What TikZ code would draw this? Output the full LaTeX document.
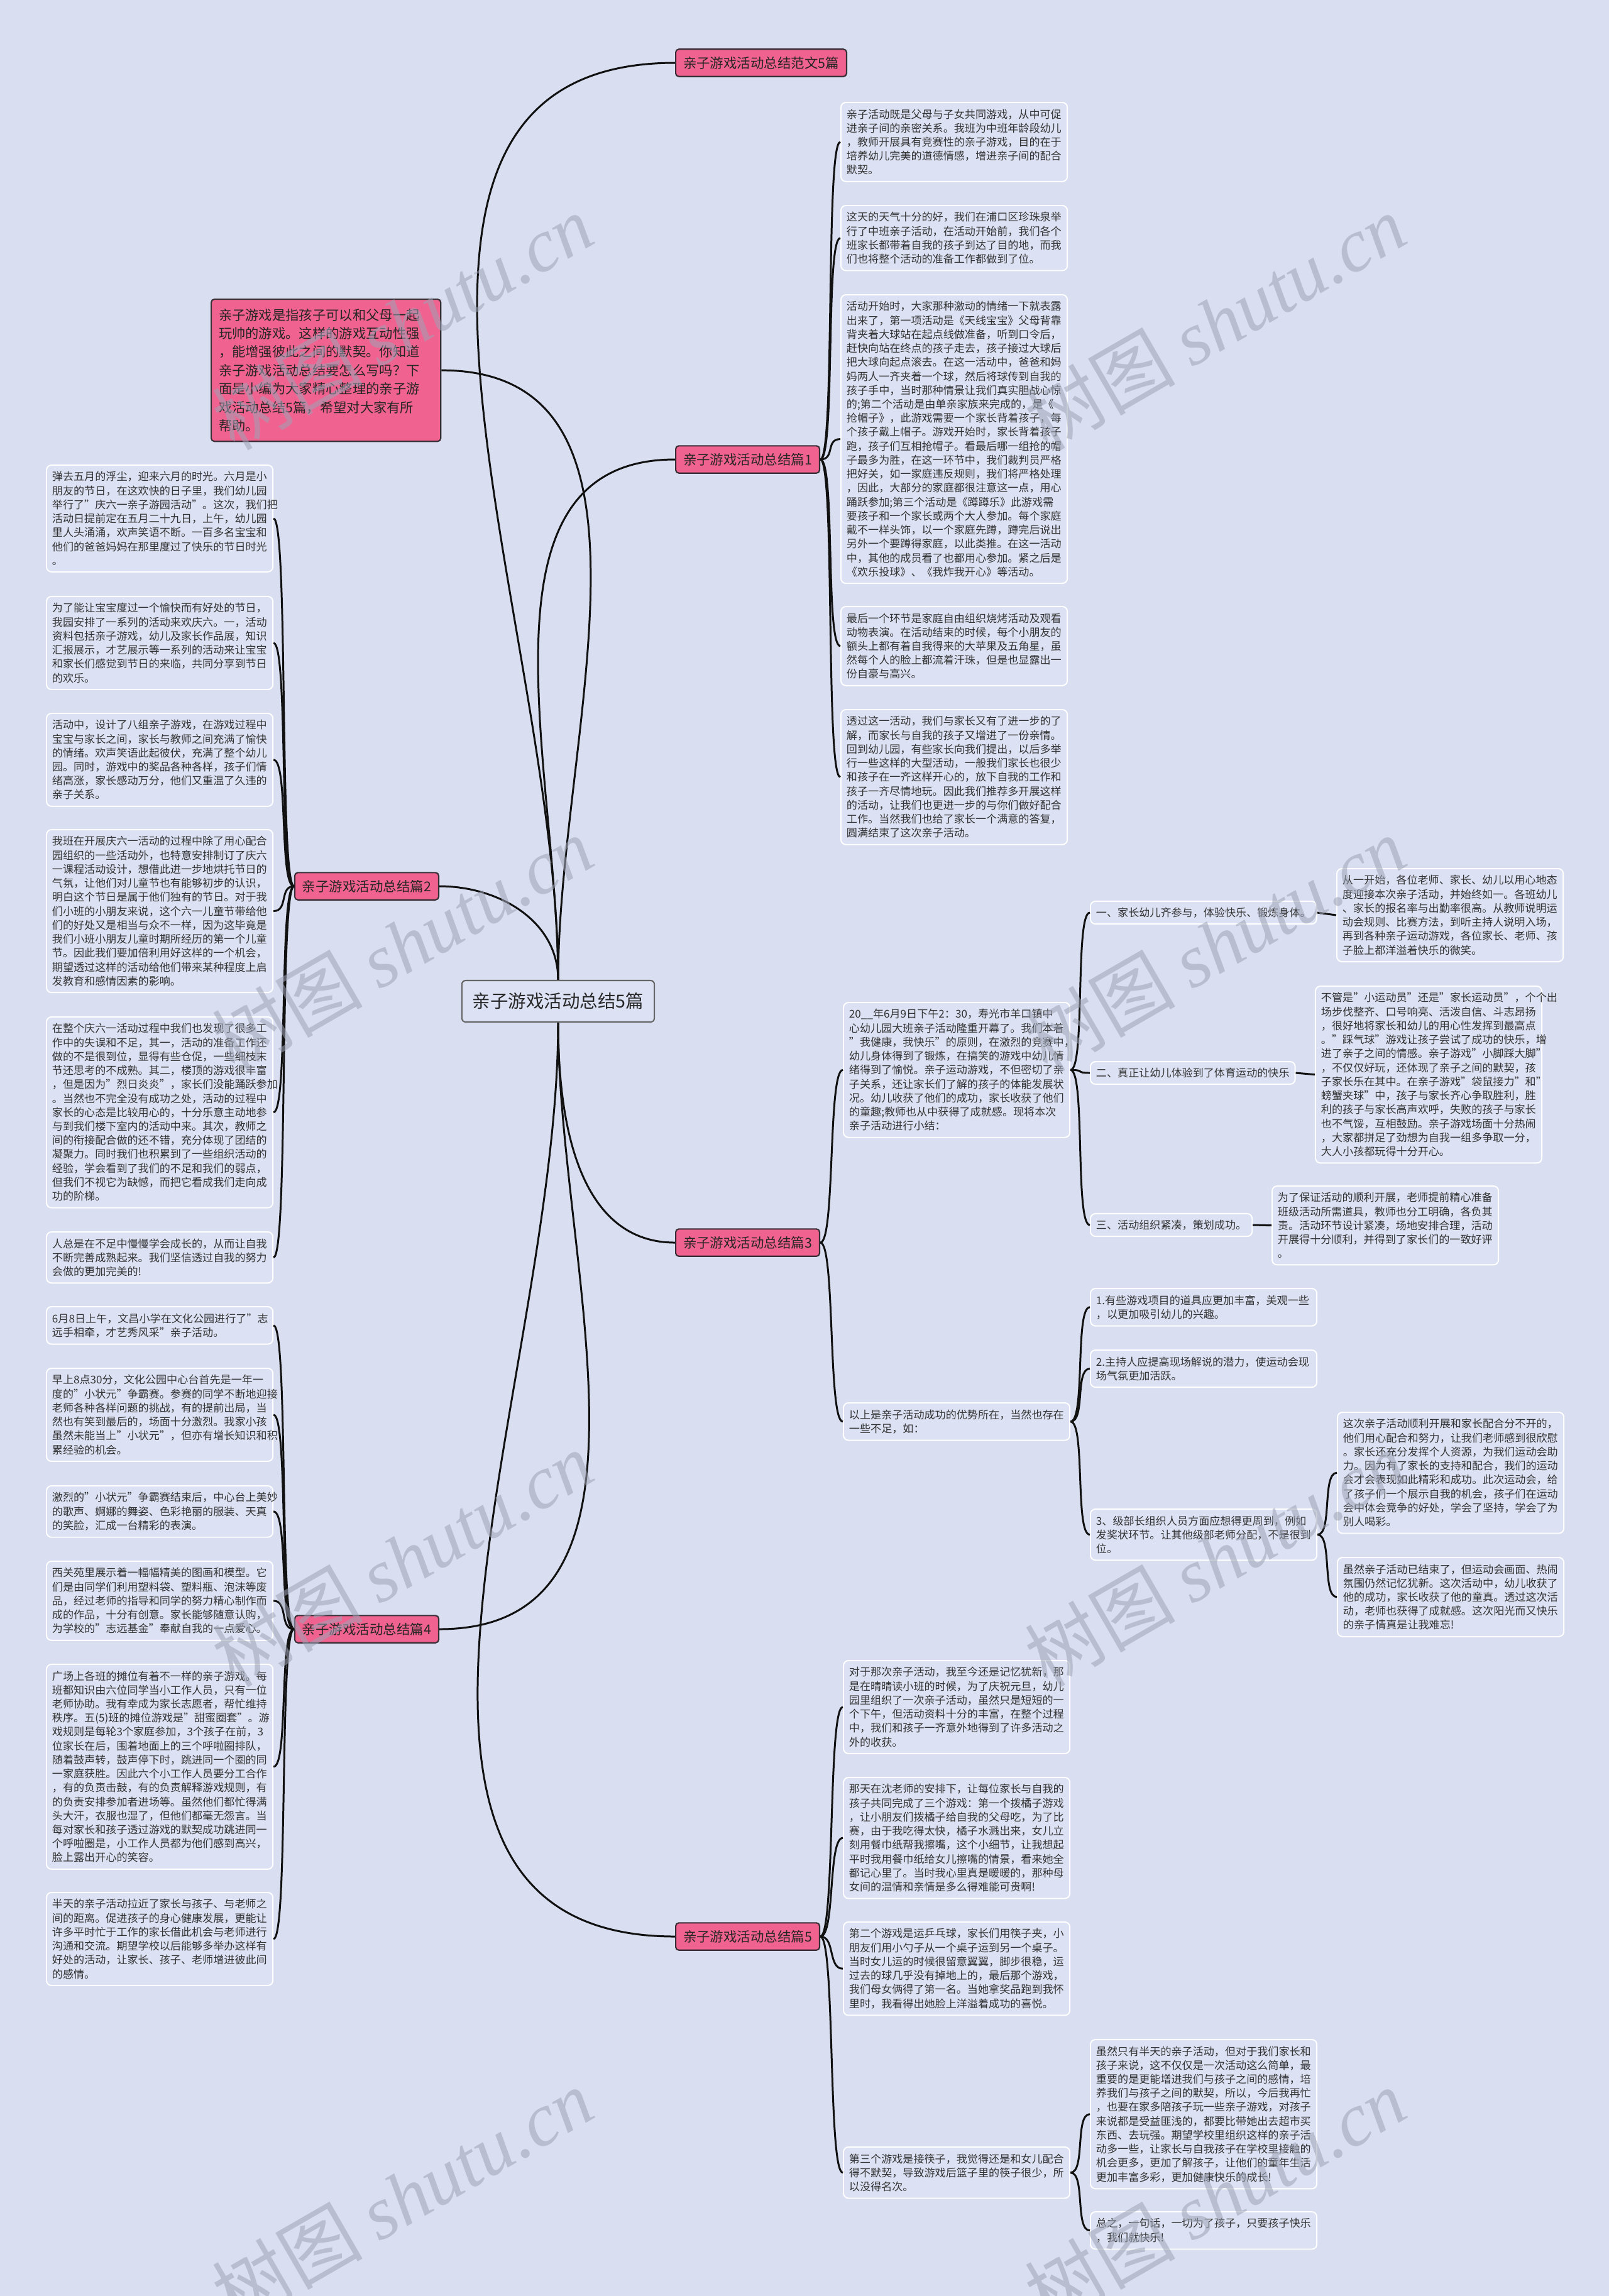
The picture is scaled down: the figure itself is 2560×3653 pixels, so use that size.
\documentclass[tikz,border=0pt]{standalone}
\usepackage{fontspec}
\setmainfont{Noto Sans CJK SC}
\newfontfamily\wmlatin{Liberation Serif}
\usetikzlibrary{positioning}

\definecolor{bgcol}{HTML}{D9DFF1}
\definecolor{leafcol}{HTML}{DCE2F4}
\definecolor{pinkcol}{HTML}{F0628F}
\definecolor{edgecol}{HTML}{3A2E36}
\definecolor{linecol}{HTML}{111111}
\definecolor{wmcol}{HTML}{9EA4B6}

\newcommand\leaffont{\fontsize{4.86pt}{6.32pt}\selectfont}
\newcommand\topicfont{\fontsize{6.1pt}{7pt}\selectfont}
\newcommand\rootfont{\fontsize{8.1pt}{9pt}\selectfont}
\newcommand\introfont{\fontsize{6.06pt}{8.36pt}\selectfont}

% connectors: parent on the left, child on the right (and the other way round)
\newcommand\twig[2]{\draw[link] (#1.east) .. controls +(24,0) and +(-24,0) .. (#2.west);}
\newcommand\twigl[2]{\draw[link] (#1.west) .. controls +(-24,0) and +(24,0) .. (#2.east);}

\tikzset{
  leaf/.style={draw=white, line width=0.55pt, fill=leafcol, rounded corners=0.08cm,
    text width=3.42cm, inner xsep=0.09cm, inner ysep=0.105cm, align=left,
    anchor=north west, font=\leaffont, text=black!80},
  headbox/.style={draw=white, line width=0.55pt, fill=leafcol, rounded corners=0.08cm,
    inner xsep=0.09cm, inner ysep=0.1cm, anchor=west, font=\leaffont, text=black!80},
  topic/.style={draw=edgecol, line width=0.6pt, fill=pinkcol, rounded corners=0.05cm,
    inner xsep=0.12cm, minimum height=0.42cm, font=\topicfont, text=black!85},
  rootbox/.style={draw=black!60, line width=0.6pt, fill=leafcol, rounded corners=0.06cm,
    inner xsep=0.17cm, minimum height=0.66cm, font=\rootfont, text=black!85},
  intro/.style={topic, text width=3.41cm, inner xsep=0.12cm, inner ysep=0.15cm,
    align=left, anchor=north west, font=\introfont, minimum height=0pt},
  link/.style={draw=linecol, line width=0.85pt},
  wmark/.style={text=wmcol, opacity=0.55, rotate=30, font=\fontsize{34pt}{34pt}\selectfont},
}

\begin{document}
\begin{tikzpicture}[x=0.01cm, y=-0.01cm]
  \useasboundingbox (0,0) rectangle (2560,3653);
  \fill[bgcol] (0,0) rectangle (2560,3653);

  % centre and main branches
  \node[rootbox] (root) at (888,1593) {亲子游戏活动总结5篇};
  \node[topic, anchor=west] (t0) at (1074,100) {亲子游戏活动总结范文5篇};
  \node[topic, anchor=west] (t1) at (1074,731) {亲子游戏活动总结篇1};
  \node[topic, anchor=east] (t2) at (699,1410) {亲子游戏活动总结篇2};
  \node[topic, anchor=west] (t3) at (1074,1977) {亲子游戏活动总结篇3};
  \node[topic, anchor=east] (t4) at (699,2592) {亲子游戏活动总结篇4};
  \node[topic, anchor=west] (t5) at (1074,3081) {亲子游戏活动总结篇5};
  \node[intro] (intro) at (335,475) {亲子游戏是指孩子可以和父母一起\\
玩帅的游戏。这样的游戏互动性强\\
，能增强彼此之间的默契。你知道\\
亲子游戏活动总结要怎么写吗？下\\
面是小编为大家精心整理的亲子游\\
戏活动总结5篇，希望对大家有所\\
帮助。};

  \draw[link] (root.north) to[out=90,in=180] (t0.west);
  \draw[link] (root.north) to[out=90,in=180] (t1.west);
  \draw[link] (root.south) to[out=-90,in=180] (t3.west);
  \draw[link] (root.south) to[out=-90,in=180] (t5.west);
  \draw[link] (root.north) to[out=90,in=0] (t2.east);
  \draw[link] (root.north) to[out=90,in=0] (intro.east);
  \draw[link] (root.south) to[out=-90,in=0] (t4.east);

  % 篇1
  \node[leaf] (a1) at (1337,162) {亲子活动既是父母与子女共同游戏，从中可促\\
进亲子间的亲密关系。我班为中班年龄段幼儿\\
，教师开展具有竞赛性的亲子游戏，目的在于\\
培养幼儿完美的道德情感，增进亲子间的配合\\
默契。};
  \node[leaf] (a2) at (1337,326) {这天的天气十分的好，我们在浦口区珍珠泉举\\
行了中班亲子活动，在活动开始前，我们各个\\
班家长都带着自我的孩子到达了目的地，而我\\
们也将整个活动的准备工作都做到了位。};
  \node[leaf] (a3) at (1337,468) {活动开始时，大家那种激动的情绪一下就表露\\
出来了，第一项活动是《天线宝宝》父母背靠\\
背夹着大球站在起点线做准备，听到口令后，\\
赶快向站在终点的孩子走去，孩子接过大球后\\
把大球向起点滚去。在这一活动中，爸爸和妈\\
妈两人一齐夹着一个球，然后将球传到自我的\\
孩子手中，当时那种情景让我们真实胆战心惊\\
的;第二个活动是由单亲家族来完成的，是《\\
抢帽子》，此游戏需要一个家长背着孩子，每\\
个孩子戴上帽子。游戏开始时，家长背着孩子\\
跑，孩子们互相抢帽子。看最后哪一组抢的帽\\
子最多为胜，在这一环节中，我们裁判员严格\\
把好关，如一家庭违反规则，我们将严格处理\\
，因此，大部分的家庭都很注意这一点，用心\\
踊跃参加;第三个活动是《蹲蹲乐》此游戏需\\
要孩子和一个家长或两个大人参加。每个家庭\\
戴不一样头饰，以一个家庭先蹲，蹲完后说出\\
另外一个要蹲得家庭，以此类推。在这一活动\\
中，其他的成员看了也都用心参加。紧之后是\\
《欢乐投球》、《我炸我开心》等活动。};
  \node[leaf] (a4) at (1337,964) {最后一个环节是家庭自由组织烧烤活动及观看\\
动物表演。在活动结束的时候，每个小朋友的\\
额头上都有着自我得来的大苹果及五角星，虽\\
然每个人的脸上都流着汗珠，但是也显露出一\\
份自豪与高兴。};
  \node[leaf] (a5) at (1337,1128) {透过这一活动，我们与家长又有了进一步的了\\
解，而家长与自我的孩子又增进了一份亲情。\\
回到幼儿园，有些家长向我们提出，以后多举\\
行一些这样的大型活动，一般我们家长也很少\\
和孩子在一齐这样开心的，放下自我的工作和\\
孩子一齐尽情地玩。因此我们推荐多开展这样\\
的活动，让我们也更进一步的与你们做好配合\\
工作。当然我们也给了家长一个满意的答复，\\
圆满结束了这次亲子活动。};
  \foreach \c in {a1,a2,a3,a4,a5} {\twig{t1}{\c}}

  % 篇2
  \node[leaf] (b1) at (73,739) {弹去五月的浮尘，迎来六月的时光。六月是小\\
朋友的节日，在这欢快的日子里，我们幼儿园\\
举行了"庆六一亲子游园活动"。这次，我们把\\
活动日提前定在五月二十九日，上午，幼儿园\\
里人头涌涌，欢声笑语不断。一百多名宝宝和\\
他们的爸爸妈妈在那里度过了快乐的节日时光\\
。};
  \node[leaf] (b2) at (73,948) {为了能让宝宝度过一个愉快而有好处的节日，\\
我园安排了一系列的活动来欢庆六。一，活动\\
资料包括亲子游戏，幼儿及家长作品展，知识\\
汇报展示，才艺展示等一系列的活动来让宝宝\\
和家长们感觉到节日的来临，共同分享到节日\\
的欢乐。};
  \node[leaf] (b3) at (73,1134) {活动中，设计了八组亲子游戏，在游戏过程中\\
宝宝与家长之间，家长与教师之间充满了愉快\\
的情绪。欢声笑语此起彼伏，充满了整个幼儿\\
园。同时，游戏中的奖品各种各样，孩子们情\\
绪高涨，家长感动万分，他们又重温了久违的\\
亲子关系。};
  \node[leaf] (b4) at (73,1319) {我班在开展庆六一活动的过程中除了用心配合\\
园组织的一些活动外，也特意安排制订了庆六\\
一课程活动设计，想借此进一步地烘托节日的\\
气氛，让他们对儿童节也有能够初步的认识，\\
明白这个节日是属于他们独有的节日。对于我\\
们小班的小朋友来说，这个六一儿童节带给他\\
们的好处又是相当与众不一样，因为这毕竟是\\
我们小班小朋友儿童时期所经历的第一个儿童\\
节。因此我们要加倍利用好这样的一个机会，\\
期望透过这样的活动给他们带来某种程度上启\\
发教育和感情因素的影响。};
  \node[leaf] (b5) at (73,1617) {在整个庆六一活动过程中我们也发现了很多工\\
作中的失误和不足，其一，活动的准备工作还\\
做的不是很到位，显得有些仓促，一些细枝末\\
节还思考的不成熟。其二，楼顶的游戏很丰富\\
，但是因为"烈日炎炎"，家长们没能踊跃参加\\
。当然也不完全没有成功之处，活动的过程中\\
家长的心态是比较用心的，十分乐意主动地参\\
与到我们楼下室内的活动中来。其次，教师之\\
间的衔接配合做的还不错，充分体现了团结的\\
凝聚力。同时我们也积累到了一些组织活动的\\
经验，学会看到了我们的不足和我们的弱点，\\
但我们不视它为缺憾，而把它看成我们走向成\\
功的阶梯。};
  \node[leaf] (b6) at (73,1959) {人总是在不足中慢慢学会成长的，从而让自我\\
不断完善成熟起来。我们坚信透过自我的努力\\
会做的更加完美的!};
  \foreach \c in {b1,b2,b3,b4,b5,b6} {\twigl{t2}{\c}}

  % 篇3
  \node[leaf] (c0) at (1341,1594) {20\_\_年6月9日下午2：30，寿光市羊口镇中\\
心幼儿园大班亲子活动隆重开幕了。我们本着\\
"我健康，我快乐"的原则，在激烈的竞赛中，\\
幼儿身体得到了锻炼，在搞笑的游戏中幼儿情\\
绪得到了愉悦。亲子运动游戏，不但密切了亲\\
子关系，还让家长们了解的孩子的体能发展状\\
况。幼儿收获了他们的成功，家长收获了他们\\
的童趣;教师也从中获得了成就感。现将本次\\
亲子活动进行小结：};
  \node[headbox] (c1) at (1734,1452) {一、家长幼儿齐参与，体验快乐、锻炼身体。};
  \node[headbox] (c2) at (1734,1707) {二、真正让幼儿体验到了体育运动的快乐};
  \node[headbox] (c3) at (1734,1949) {三、活动组织紧凑，策划成功。};
  \node[leaf] (d1) at (2126,1381) {从一开始，各位老师、家长、幼儿以用心地态\\
度迎接本次亲子活动，并始终如一。各班幼儿\\
、家长的报名率与出勤率很高。从教师说明运\\
动会规则、比赛方法，到听主持人说明入场，\\
再到各种亲子运动游戏，各位家长、老师、孩\\
子脸上都洋溢着快乐的微笑。};
  \node[leaf] (d2) at (2092,1568) {不管是"小运动员"还是"家长运动员"，个个出\\
场步伐整齐、口号响亮、活泼自信、斗志昂扬\\
，很好地将家长和幼儿的用心性发挥到最高点\\
。"踩气球"游戏让孩子尝试了成功的快乐，增\\
进了亲子之间的情感。亲子游戏"小脚踩大脚"\\
，不仅仅好玩，还体现了亲子之间的默契，孩\\
子家长乐在其中。在亲子游戏"袋鼠接力"和"\\
螃蟹夹球"中，孩子与家长齐心争取胜利，胜\\
利的孩子与家长高声欢呼，失败的孩子与家长\\
也不气馁，互相鼓励。亲子游戏场面十分热闹\\
，大家都拼足了劲想为自我一组多争取一分，\\
大人小孩都玩得十分开心。};
  \node[leaf] (d3) at (2023,1886) {为了保证活动的顺利开展，老师提前精心准备\\
班级活动所需道具，教师也分工明确，各负其\\
责。活动环节设计紧凑，场地安排合理，活动\\
开展得十分顺利，并得到了家长们的一致好评\\
。};
  \node[leaf] (c4) at (1341,2231) {以上是亲子活动成功的优势所在，当然也存在\\
一些不足，如：};
  \node[leaf] (c5) at (1734,2049) {1.有些游戏项目的道具应更加丰富，美观一些\\
，以更加吸引幼儿的兴趣。};
  \node[leaf] (c6) at (1734,2147) {2.主持人应提高现场解说的潜力，使运动会现\\
场气氛更加活跃。};
  \node[leaf] (c7) at (1734,2400) {3、级部长组织人员方面应想得更周到，例如\\
发奖状环节。让其他级部老师分配，不是很到\\
位。};
  \node[leaf] (d4) at (2127,2246) {这次亲子活动顺利开展和家长配合分不开的，\\
他们用心配合和努力，让我们老师感到很欣慰\\
。家长还充分发挥个人资源，为我们运动会助\\
力。因为有了家长的支持和配合，我们的运动\\
会才会表现如此精彩和成功。此次运动会，给\\
了孩子们一个展示自我的机会，孩子们在运动\\
会中体会竞争的好处，学会了坚持，学会了为\\
别人喝彩。};
  \node[leaf] (d5) at (2127,2477) {虽然亲子活动已结束了，但运动会画面、热闹\\
氛围仍然记忆犹新。这次活动中，幼儿收获了\\
他的成功，家长收获了他的童真。透过这次活\\
动，老师也获得了成就感。这次阳光而又快乐\\
的亲子情真是让我难忘!};
  \twig{t3}{c0} \twig{t3}{c4}
  \foreach \c in {c1,c2,c3} {\twig{c0}{\c}}
  \draw[link] (c1.east) -- (d1.west);
  \draw[link] (c2.east) -- (d2.west);
  \draw[link] (c3.east) -- (d3.west);
  \foreach \c in {c5,c6,c7} {\twig{c4}{\c}}
  \twig{c7}{d4} \twig{c7}{d5}

  % 篇4
  \node[leaf] (e1) at (73,2078) {6月8日上午，文昌小学在文化公园进行了"志\\
远手相牵，才艺秀风采"亲子活动。};
  \node[leaf] (e2) at (73,2176) {早上8点30分，文化公园中心台首先是一年一\\
度的"小状元"争霸赛。参赛的同学不断地迎接\\
老师各种各样问题的挑战，有的提前出局，当\\
然也有笑到最后的，场面十分激烈。我家小孩\\
虽然未能当上"小状元"，但亦有增长知识和积\\
累经验的机会。};
  \node[leaf] (e3) at (73,2363) {激烈的"小状元"争霸赛结束后，中心台上美妙\\
的歌声、婀娜的舞姿、色彩艳丽的服装、天真\\
的笑脸，汇成一台精彩的表演。};
  \node[leaf] (e4) at (73,2483) {西关苑里展示着一幅幅精美的图画和模型。它\\
们是由同学们利用塑料袋、塑料瓶、泡沫等废\\
品，经过老师的指导和同学的努力精心制作而\\
成的作品，十分有创意。家长能够随意认购，\\
为学校的"志远基金"奉献自我的一点爱心。};
  \node[leaf] (e5) at (73,2647) {广场上各班的摊位有着不一样的亲子游戏。每\\
班都知识由六位同学当小工作人员，只有一位\\
老师协助。我有幸成为家长志愿者，帮忙维持\\
秩序。五(5)班的摊位游戏是"甜蜜圈套"。游\\
戏规则是每轮3个家庭参加，3个孩子在前，3\\
位家长在后，围着地面上的三个呼啦圈排队，\\
随着鼓声转，鼓声停下时，跳进同一个圈的同\\
一家庭获胜。因此六个小工作人员要分工合作\\
，有的负责击鼓，有的负责解释游戏规则，有\\
的负责安排参加者进场等。虽然他们都忙得满\\
头大汗，衣服也湿了，但他们都毫无怨言。当\\
每对家长和孩子透过游戏的默契成功跳进同一\\
个呼啦圈是，小工作人员都为他们感到高兴，\\
脸上露出开心的笑容。};
  \node[leaf] (e6) at (73,3010) {半天的亲子活动拉近了家长与孩子、与老师之\\
间的距离。促进孩子的身心健康发展，更能让\\
许多平时忙于工作的家长借此机会与老师进行\\
沟通和交流。期望学校以后能够多举办这样有\\
好处的活动，让家长、孩子、老师增进彼此间\\
的感情。};
  \foreach \c in {e1,e2,e3,e4,e5,e6} {\twigl{t4}{\c}}

  % 篇5
  \node[leaf] (f1) at (1341,2641) {对于那次亲子活动，我至今还是记忆犹新，那\\
是在晴晴读小班的时候，为了庆祝元旦，幼儿\\
园里组织了一次亲子活动，虽然只是短短的一\\
个下午，但活动资料十分的丰富，在整个过程\\
中，我们和孩子一齐意外地得到了许多活动之\\
外的收获。};
  \node[leaf] (f2) at (1341,2827) {那天在沈老师的安排下，让每位家长与自我的\\
孩子共同完成了三个游戏：第一个拨橘子游戏\\
，让小朋友们拨橘子给自我的父母吃，为了比\\
赛，由于我吃得太快，橘子水溅出来，女儿立\\
刻用餐巾纸帮我擦嘴，这个小细节，让我想起\\
平时我用餐巾纸给女儿擦嘴的情景，看来她全\\
都记心里了。当时我心里真是暖暖的，那种母\\
女间的温情和亲情是多么得难能可贵啊!};
  \node[leaf] (f3) at (1341,3057) {第二个游戏是运乒乓球，家长们用筷子夹，小\\
朋友们用小勺子从一个桌子运到另一个桌子。\\
当时女儿运的时候很留意翼翼，脚步很稳，运\\
过去的球几乎没有掉地上的，最后那个游戏，\\
我们母女俩得了第一名。当她拿奖品跑到我怀\\
里时，我看得出她脸上洋溢着成功的喜悦。};
  \node[leaf] (f4) at (1341,3415) {第三个游戏是接筷子，我觉得还是和女儿配合\\
得不默契，导致游戏后篮子里的筷子很少，所\\
以没得名次。};
  \node[leaf] (f5) at (1734,3244) {虽然只有半天的亲子活动，但对于我们家长和\\
孩子来说，这不仅仅是一次活动这么简单，最\\
重要的是更能增进我们与孩子之间的感情，培\\
养我们与孩子之间的默契，所以，今后我再忙\\
，也要在家多陪孩子玩一些亲子游戏，对孩子\\
来说都是受益匪浅的，都要比带她出去超市买\\
东西、去玩强。期望学校里组织这样的亲子活\\
动多一些，让家长与自我孩子在学校里接触的\\
机会更多，更加了解孩子，让他们的童年生活\\
更加丰富多彩，更加健康快乐的成长!};
  \node[leaf] (f6) at (1734,3518) {总之，一句话，一切为了孩子，只要孩子快乐\\
，我们就快乐!};
  \foreach \c in {f1,f2,f3,f4} {\twig{t5}{\c}}
  \twig{f4}{f5} \twig{f4}{f6}

  % watermarks
  \foreach \wx/\wy in {640/512,1933/512,640/1502,1933/1502,640/2480,1933/2480,640/3494,1933/3494}
    \node[wmark] at (\wx,\wy) {树图 {\wmlatin\itshape shutu.cn}};
\end{tikzpicture}
\end{document}
